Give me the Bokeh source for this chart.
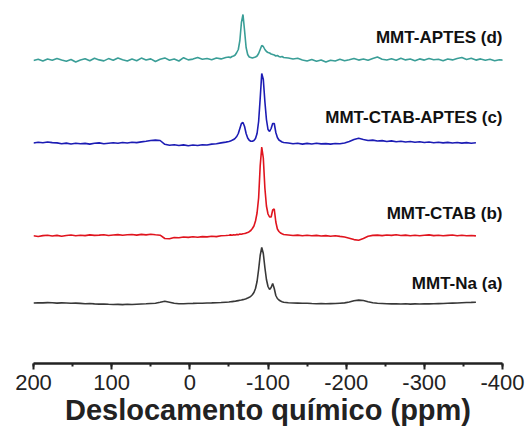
import numpy as np
from bokeh.plotting import figure
from bokeh.models import Range1d, Label, SingleIntervalTicker
from bokeh.embed import file_html
from bokeh.resources import INLINE

# chemical-shift sample positions (ppm)
ppm_left = np.arange(200, -47, -6)      # 200 ... -46
ppm_peak = np.arange(-50, -121, -2)     # -50 ... -120
ppm_right = np.arange(-126, -367, -6)   # -126 ... -366
ppm_teal_tail = [-372, -378, -384, -390, -396, -402]

# intensities (arbitrary units)
na_left = [0.5,0.8,0.6,0.9,0.7,0.4,0.6,0.5,0.2,0.4,0.1,-0.2,0,-0.4,-0.6,-0.5,-0.8,-1,-0.9,-1.1,-0.8,-1,-0.7,-0.5,-0.3,0,0.3,1.2,2.2,1.2,0.2,-0.3,-0.2,0,0.1,0.3,0.2,0.5,0.6,0.8,1.0,1.3]
na_peak = [1.5,1.7,1.9,2.1,2.3,2.6,2.9,3.2,3.5,3.9,4.3,4.8,5.4,6.2,7.2,8.8,11,15,22,34,48,56,50,36,24,17,14,16,20,15,8,5,3.5,2.5,1.8,1.3]
na_right = [0.8,0.5,0.4,0.2,0.3,0,-0.2,0,-0.3,-0.1,0,0.3,0.6,1.5,2.8,3.4,3.0,1.8,0.8,0.3,0,-0.3,-0.4,-0.2,-0.5,-0.3,-0.6,-0.4,-0.5,-0.3,-0.4,-0.2,-0.1,0,0.2,0.4,0.5,0.8,1.0,1.1,1.3]

ctab_left = [0.3,-0.5,0.4,0.8,0,0.6,-0.3,0.5,1.0,0.2,0.7,0.4,1.1,0.6,0.9,1.3,0.5,1.0,1.4,0.8,1.2,1.5,0.9,1.6,1.1,1.8,1.2,0.8,-2.5,-2.8,-1.5,-1.8,-1.0,-1.4,-0.8,-1.2,-0.6,-0.9,-0.3,-0.6,0.2,0.5]
ctab_peak = [0.8,1.1,0.7,1.3,1.0,1.6,1.3,1.9,1.7,2.2,2.5,2.9,3.5,4.3,5.5,7.5,10,15,23,38,70,89,78,48,30,22,19,19,26,27,14,7,4.5,3,2.2,1.5]
ctab_right = [1.0,0.5,0.9,0.3,0.7,0.2,0.6,0,0.4,-0.2,0.3,-0.4,-1.0,-2.2,-3.6,-4.2,-2.5,-0.3,0.6,0.9,0.4,1.0,0.6,1.2,0.5,0.9,0.3,0.8,0.2,0.7,1.1,0.4,0.8,0.2,0.6,1.0,0.3,0.7,0.2,0.5,0.1]

ctab_aptes_left = [0.5,1.2,0.8,1.5,0.9,0.6,-0.2,0.4,-0.5,0.3,-0.3,0.1,-0.6,0.2,0.6,-0.2,0.3,0.8,0.2,1.0,0.5,1.3,0.9,1.6,2.2,3.0,3.4,3.0,-0.8,-1.8,-1.2,-2.0,-1.4,-2.2,-1.5,-2.0,-1.2,-1.5,-0.6,-0.2,0.6,1.4]
ctab_aptes_peak = [2.0,2.5,3.2,4.0,5.2,7.0,10,15,20,21,17,10,5.5,3.2,2.3,2.2,3,5,10,22,45,70,64,42,24,14,12,15,20,20,11,6,3.5,2.5,1.5,1.0]
ctab_aptes_right = [0.5,-0.3,0.2,-0.6,0.1,-0.5,0.3,-0.4,-0.1,-0.6,0,-0.3,0.5,2.0,4.0,5.2,4.0,3.0,3.4,2.5,2.9,2.0,2.6,1.8,2.2,1.5,2.0,1.2,1.8,1.0,1.5,0.8,1.3,0.6,1.1,0.5,1.0,0.4,0.9,0.3,0.7]

aptes_left = [0,1.2,-0.5,1.5,0.3,2.0,0.5,-0.8,1.0,-1.5,0.4,1.8,-0.3,2.2,0.6,-0.4,1.9,0.2,2.5,0.8,-0.6,1.4,-0.3,2.4,0.5,1.6,-1.0,1.2,2.6,0.3,1.5,-0.5,2.8,0.6,1.4,3.0,1.2,2.0,0.8,2.5,1.6,3.0]
aptes_peak = [3.5,2.8,4.0,4.5,5.5,8,11,20,38,46,30,13,6,3.5,3.0,2.5,3.0,3.5,4.5,7,11,15,14,11,9,8,7.5,6.5,6,5.5,4.5,5,4,3.5,4,3]
aptes_right = [2.5,1.5,2.2,0.5,-0.5,1.0,-0.8,0.6,-1.5,0.3,-0.5,1.2,-0.3,0.8,2.0,0.4,1.5,0.2,2.0,3.5,1.2,0.5,1.8,0.3,2.2,0.6,1.5,-0.2,1.6,0.4,2.0,0.8,1.2,-0.3,1.5,0.6,2.0,3.0,1.0,2.2,0.4]
aptes_tail = [1.6,0.2,1.2,-0.2,0.8,0.3]

names = ["MMT-Na (a)", "MMT-CTAB (b)", "MMT-CTAB-APTES (c)", "MMT-APTES (d)"]
colors = ["#383838", "#e0141e", "#1c1cb4", "#3a9e97"]
offsets = [60, 127.5, 220, 303]
label_lift = [20, 22.5, 26, 23]

tick_values = [200, 100, 0, -100, -200, -300, -400]
tick_labels = ["200", "100", "0", "-100", "-200", "-300", "-400"]

ppm_std = list(ppm_left) + list(ppm_peak) + list(ppm_right)
series = [
    (ppm_std, na_left + na_peak + na_right),
    (ppm_std, ctab_left + ctab_peak + ctab_right),
    (ppm_std, ctab_aptes_left + ctab_aptes_peak + ctab_aptes_right),
    (ppm_std + ppm_teal_tail, aptes_left + aptes_peak + aptes_right + aptes_tail),
]

p = figure(width=526, height=431, output_backend="svg", toolbar_location=None,
           x_range=Range1d(200, -400), y_range=Range1d(0, 363),
           y_axis_location=None, min_border_left=33, min_border_right=24,
           min_border_top=0, min_border_bottom=68)
p.outline_line_color = None
p.xgrid.visible = False
p.ygrid.visible = False

FONT = "Liberation Sans"
for (xs, ys), name, col, off, lift in zip(series, names, colors, offsets, label_lift):
    p.line(xs, [v + off for v in ys], line_color=col, line_width=1.6)
    p.add_layout(Label(x=-400, y=off + lift, text=name, text_align="right",
                       text_baseline="middle", text_font=FONT,
                       text_font_style="bold", text_font_size="17px",
                       text_color="#111111"))

ax = p.xaxis[0]
ax.ticker = SingleIntervalTicker(interval=100, num_minor_ticks=2)
ax.major_label_overrides = {v: s for v, s in zip(tick_values, tick_labels)}
ax.axis_line_width = 2.5
ax.axis_line_color = "#222222"
ax.major_tick_line_width = 2
ax.major_tick_line_color = "#222222"
ax.minor_tick_line_width = 2
ax.minor_tick_line_color = "#222222"
ax.major_tick_out = 6
ax.major_tick_in = 0
ax.minor_tick_out = 3
ax.minor_tick_in = 0
ax.major_label_text_font = FONT
ax.major_label_text_font_size = "22px"
ax.major_label_text_color = "#222222"
ax.major_label_standoff = 5
ax.axis_label = "Deslocamento químico (ppm)"
ax.axis_label_text_font = FONT
ax.axis_label_text_font_style = "bold"
ax.axis_label_text_font_size = "29px"
ax.axis_label_text_color = "#222222"
ax.axis_label_standoff = 1

open("out.html", "w").write(file_html(p, INLINE))
